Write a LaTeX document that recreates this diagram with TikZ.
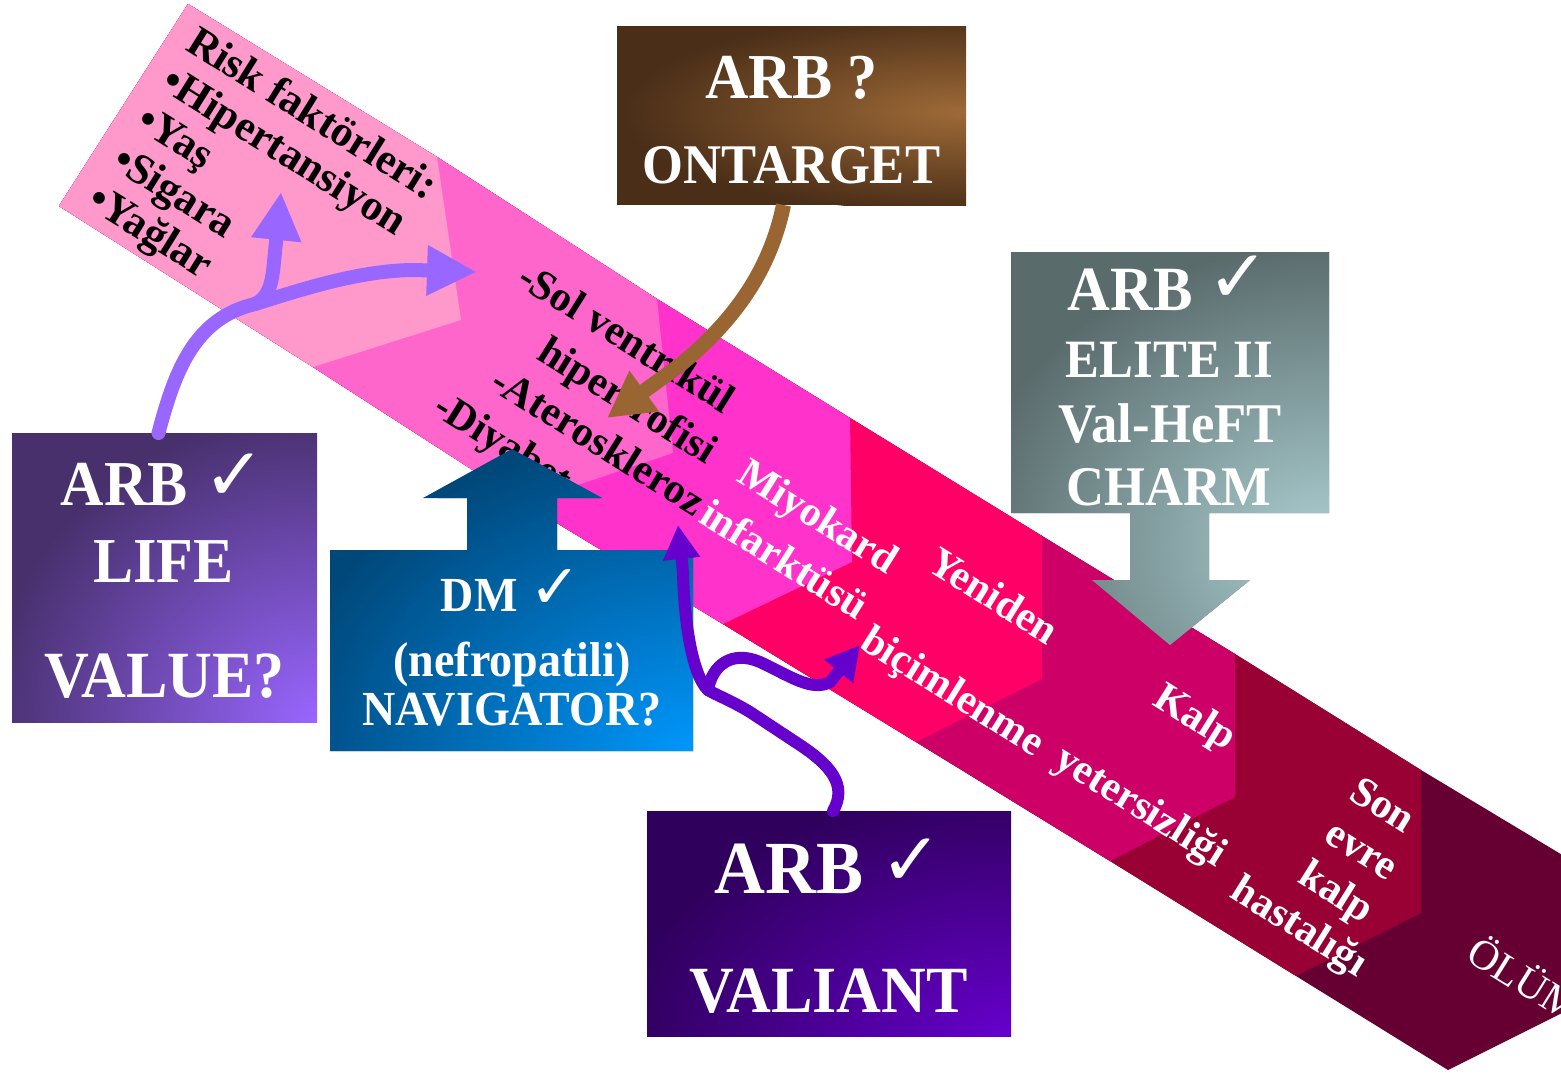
\documentclass[tikz,border=0pt]{standalone}
\usepackage{fontspec}
\setmainfont{Liberation Serif}
\newfontfamily\boxfont[FakeStretch=0.94]{Liberation Serif}
\newfontfamily\checkfont{DejaVu Sans}
\usetikzlibrary{arrows.meta}

% band stages, light to dark
\definecolor{stA}{HTML}{FF99CC}
\definecolor{stB}{HTML}{FF66CC}
\definecolor{stC}{HTML}{FF33CC}
\definecolor{stD}{HTML}{FF0066}
\definecolor{stE}{HTML}{CC0066}
\definecolor{stF}{HTML}{990033}
\definecolor{stG}{HTML}{660033}
% box gradients
\definecolor{brownDark}{HTML}{4A2E18}
\definecolor{brownLight}{HTML}{9E6A37}
\definecolor{lifeDark}{HTML}{47306C}
\definecolor{lifeLight}{HTML}{9966FF}
\definecolor{dmDark}{HTML}{00487A}
\definecolor{dmLight}{HTML}{0099FF}
\definecolor{valDark}{HTML}{2F005C}
\definecolor{valLight}{HTML}{6600CC}
\definecolor{greyDark}{HTML}{5A6B6C}
\definecolor{greyLight}{HTML}{ABCED1}
% connectors
\definecolor{lavender}{HTML}{9966FF}
\definecolor{brownArrow}{HTML}{996633}
\definecolor{violetArrow}{HTML}{6600CC}

\newcommand\tickmark[1]{{\checkfont\bfseries\fontsize{#1}{#1}\selectfont ✓}}

\begin{document}
\begin{tikzpicture}[x=0.5pt, y=-0.5pt,
  bandlabel/.style={rotate=-32, anchor=base west, inner sep=0pt, outer sep=0pt,
    font=\bfseries\fontsize{21}{21}\selectfont},
  darklabel/.style={bandlabel, text=black},
  risklabel/.style={darklabel, font=\bfseries\fontsize{21.6}{21.6}\selectfont},
  lightlabel/.style={bandlabel, text=white},
  stagelabel/.style={bandlabel, anchor=base, text=white},
  panel/.style={rectangle, inner sep=0pt, outer sep=0pt},
  panellabel/.style={anchor=base, inner sep=0pt, outer sep=0pt, text=white,
    font={\boxfont\bfseries\fontsize{#1}{#1}\selectfont}},
  lavlink/.style={draw=lavender, line width=7pt, line cap=round},
  violink/.style={draw=violetArrow, line width=6pt, line cap=round},
]
\path[use as bounding box] (0,0) rectangle (1561,1073);
\clip (0,0) rectangle (1561,1073);
\fill[white] (0,0) rectangle (1561,1073);

% ---- the disease band: stage chevrons ----
\coordinate (t0) at (188,4);    \coordinate (b0) at (59,206);
\coordinate (t1) at (437,157);  \coordinate (p1) at (461,320);  \coordinate (b1) at (313,367);
\coordinate (t2) at (657,299);  \coordinate (p2) at (673,453);  \coordinate (b2) at (524,503);
\coordinate (t3) at (850,418);  \coordinate (p3) at (852,562);  \coordinate (b3) at (723,624);
\coordinate (t4) at (1042,536); \coordinate (p4) at (1042,679); \coordinate (b4) at (916,742);
\coordinate (t5) at (1235,654); \coordinate (p5) at (1235,797); \coordinate (b5) at (1110,861);
\coordinate (t6) at (1421,770); \coordinate (p6) at (1421,913); \coordinate (b6) at (1296,976);
\coordinate (t7) at (1574,862); \coordinate (p7) at (1574,1007); \coordinate (b7) at (1448,1070);

\fill[stG] (t0)--(t1)--(t2)--(t3)--(t4)--(t5)--(t6)--(t7)--(p7)--(b7)--(b6)--(b5)--(b4)--(b3)--(b2)--(b1)--(b0)--cycle;
\fill[stF] (t0)--(t1)--(t2)--(t3)--(t4)--(t5)--(t6)--(p6)--(b6)--(b5)--(b4)--(b3)--(b2)--(b1)--(b0)--cycle;
\fill[stE] (t0)--(t1)--(t2)--(t3)--(t4)--(t5)--(p5)--(b5)--(b4)--(b3)--(b2)--(b1)--(b0)--cycle;
\fill[stD] (t0)--(t1)--(t2)--(t3)--(t4)--(p4)--(b4)--(b3)--(b2)--(b1)--(b0)--cycle;
\fill[stC] (t0)--(t1)--(t2)--(t3)--(p3)--(b3)--(b2)--(b1)--(b0)--cycle;
\fill[stB] (t0)--(t1)--(t2)--(p2)--(b2)--(b1)--(b0)--cycle;
\fill[stA] (t0)--(t1)--(p1)--(b1)--(b0)--cycle;

% ---- stage texts ----
\node[risklabel] (risk1) at (184,49) {Risk faktörleri:};
\node[risklabel] (risk2) at (159.4,88.4) {•Hipertansiyon};
\node[risklabel] (risk3) at (134.8,127.8) {•Yaş};
\node[risklabel] (risk4) at (110.2,167.2) {•Sigara};
\node[risklabel] (risk5) at (85.6,206.6) {•Yağlar};

\node[darklabel] (lvh1) at (515,284) {-Sol ventrikül};
\node[darklabel] (lvh2) at (535,358) {hipertrofisi};
\node[darklabel] (ather) at (488,388) {-Ateroskleroz};
\node[darklabel] (diab) at (431,413) {-Diyabet};

\node[lightlabel] (mi1) at (735,480) {Miyokard};
\node[lightlabel] (mi2) at (697,521) {infarktüsü};
\node[lightlabel] (rem1) at (925,569) {Yeniden};
\node[lightlabel] (rem2) at (858,647) {biçimlenme};
\node[lightlabel] (hf1) at (1151,704) {Kalp};
\node[lightlabel] (hf2) at (1052,765) {yetersizliği};

\node[stagelabel] (esd1) at (1376,816) {Son};
\node[stagelabel] (esd2) at (1355,861) {evre};
\node[stagelabel] (esd3) at (1330,903) {kalp};
\node[stagelabel] (esd4) at (1293,937) {hastalığı};

\node[lightlabel, font=\fontsize{21}{21}\selectfont] (death) at (1464,959) {ÖLÜM};

% ---- trial panels ----
% ONTARGET
\node[panel, minimum width=174.5pt, minimum height=89.5pt] (ontarget) at (791.5,115.5) {};
\begin{scope}
  \clip (ontarget.south west) rectangle (ontarget.north east);
  \fill[brownDark] (ontarget.south west) rectangle (ontarget.north east);
  \shade[inner color=brownLight, outer color=brownDark] (962,112) ellipse (340 and 100);
\end{scope}
\node[panellabel=32] (ontA) at (791.5,98) {ARB ?};
\node[panellabel=28] (ontB) at (791.5,183) {ONTARGET};

% LIFE / VALUE
\node[panel, minimum width=152.5pt, minimum height=144.5pt] (life) at (164.5,577.5) {};
\begin{scope}
  \clip (life.south west) rectangle (life.north east);
  \fill[lifeDark] (life.south west) rectangle (life.north east);
  \shade[inner color=lifeLight, outer color=lifeDark] (317,722) ellipse (330 and 310);
\end{scope}
\node[panellabel=32] (lifeA) at (163,505) {ARB \raisebox{2.5pt}{\tickmark{37}}};
\node[panellabel=32] (lifeB) at (163.5,582) {LIFE};
\node[panellabel=33] (lifeC) at (164.5,697) {VALUE?};

% DM / NAVIGATOR with its upward block arrow
\node[panel, minimum width=181.5pt, minimum height=100.5pt] (navig) at (511.5,650.5) {};
\begin{scope}
  \clip (330,751) -- (330,550) -- (467,550) -- (467,498) -- (423,498) -- (512,449)
        -- (602,498) -- (557,498) -- (557,550) -- (693,550) -- (693,751) -- cycle;
  \fill[dmDark] (300,440) rectangle (720,760);
  \shade[inner color=dmLight, outer color=dmDark] (700,760) ellipse (430 and 330);
\end{scope}
\node[panellabel=24.5] (navA) at (511,611) {DM \raisebox{1.5pt}{\tickmark{31}}};
\node[panellabel=24.5] (navB) at (512,676) {(nefropatili)};
\node[panellabel=24.5] (navC) at (512,725) {NAVIGATOR?};

% VALIANT
\node[panel, minimum width=182pt, minimum height=112.5pt] (valiant) at (829,923.5) {};
\begin{scope}
  \clip (valiant.south west) rectangle (valiant.north east);
  \fill[valDark] (valiant.south west) rectangle (valiant.north east);
  \shade[inner color=valLight, outer color=valDark] (1011,1036) ellipse (390 and 250);
\end{scope}
\node[panellabel=37.5] (valA) at (828.5,893) {ARB \raisebox{4pt}{\tickmark{37}}};
\node[panellabel=33] (valB) at (828.5,1012) {VALIANT};

% ELITE II / Val-HeFT / CHARM with its downward block arrow
\node[panel, minimum width=159pt, minimum height=130.5pt] (heart) at (1170,382.5) {};
\begin{scope}
  \clip (1011,252) -- (1329,252) -- (1329,513) -- (1209,513) -- (1209,580) -- (1250,580)
        -- (1170,645) -- (1092,580) -- (1130,580) -- (1130,513) -- (1011,513) -- cycle;
  \fill[greyDark] (1000,240) rectangle (1340,660);
  \shade[inner color=greyLight, outer color=greyDark] (1325,545) ellipse (360 and 300);
\end{scope}
\node[panellabel=31.5] (hA) at (1168.5,310) {ARB \raisebox{4pt}{\tickmark{37}}};
\node[panellabel=27] (hB) at (1169.5,377) {ELITE II};
\node[panellabel=28] (hC) at (1170,442) {Val-HeFT};
\node[panellabel=28] (hD) at (1168.5,505) {CHARM};

% ---- connectors ----
% LIFE: branching arrow into risk factors and target organ damage
\coordinate (lavFork) at (255,304);
\coordinate (lavUpTip) at (281,192);
\coordinate (lavRightTip) at (477,272);
\path[lavlink] ([xshift=-3pt]life.north) .. controls (175,370) and (195,318) .. (lavFork);
\path[lavlink, -{Triangle[width=23.5pt,length=24pt]}]
  (lavFork) .. controls (268,298) and (272,285) .. (274,262) -- (lavUpTip);
\path[lavlink, -{Triangle[width=23.5pt,length=25pt]}]
  (lavFork) .. controls (300,290) and (360,270) .. (415,270) -- (lavRightTip);

% ONTARGET arrow
\coordinate (ontTip) at (607,418);
\path[draw=brownArrow, line width=7.5pt, -{Triangle[width=23.5pt,length=23pt]}]
  ([xshift=-4pt]ontarget.south) .. controls (770,270) and (735,320) .. (680,365) -- (ontTip);

% VALIANT: branching arrow
\coordinate (vioFork) at (708,690);
\coordinate (vioUpTip) at (678,525);
\coordinate (vioRightTip) at (860,645);
\path[violink] ([xshift=2pt]valiant.north) .. controls (848,785) and (830,765) .. (800,745)
  -- (750,712) .. controls (730,700) and (716,695) .. (vioFork);
\path[violink, -{Triangle[width=17.5pt,length=17pt]}]
  (vioFork) .. controls (692,675) and (684,620) .. (683,572) -- (vioUpTip);
\path[violink, -{Triangle[width=17.5pt,length=17pt]}]
  (vioFork) .. controls (712,665) and (732,650) .. (760,662)
  .. controls (790,676) and (812,692) .. (830,682) -- (vioRightTip);
\end{tikzpicture}
\end{document}
